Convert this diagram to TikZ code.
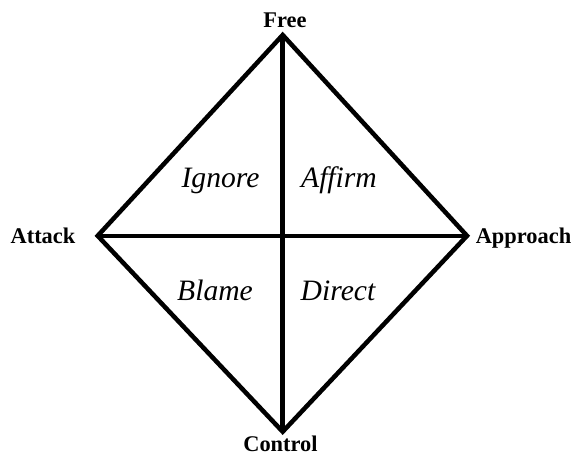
\documentclass[tikz,border=0pt]{standalone}
\usepackage{fontspec}
\setmainfont{Liberation Serif}
\begin{document}
\begin{tikzpicture}[x=0.75pt,y=-0.75pt,
  edge/.style={line width=3.4pt,line join=miter,line cap=butt},
  pole/.style={font=\bfseries\fontsize{16.8}{20}\selectfont,inner sep=0pt,anchor=base},
  quad/.style={font=\itshape\fontsize{22.2}{26}\selectfont,inner sep=0pt,anchor=base}]
\useasboundingbox (0,0) rectangle (575,462);
\coordinate (T) at (282.7,35);
\coordinate (L) at (97.7,235.8);
\coordinate (R) at (467,235.8);
\coordinate (B) at (282.7,431.7);
\draw[edge] (T) -- (R) -- (B) -- (L) -- cycle;
\draw[edge] (T) -- (B);
\draw[edge] (L) -- (R);
\node[pole] (free) at (285,27) {Free};
\node[pole] (attack) at (43,243) {Attack};
\node[pole] (approach) at (523.5,243) {Approach};
\node[pole] (control) at (280.5,451.5) {Control};
\node[quad] (ignore) at (220.5,187) {Ignore};
\node[quad] (affirm) at (339,187) {Affirm};
\node[quad] (blame) at (215,300) {Blame};
\node[quad] (direct) at (338,300) {Direct};
\end{tikzpicture}
\end{document}
